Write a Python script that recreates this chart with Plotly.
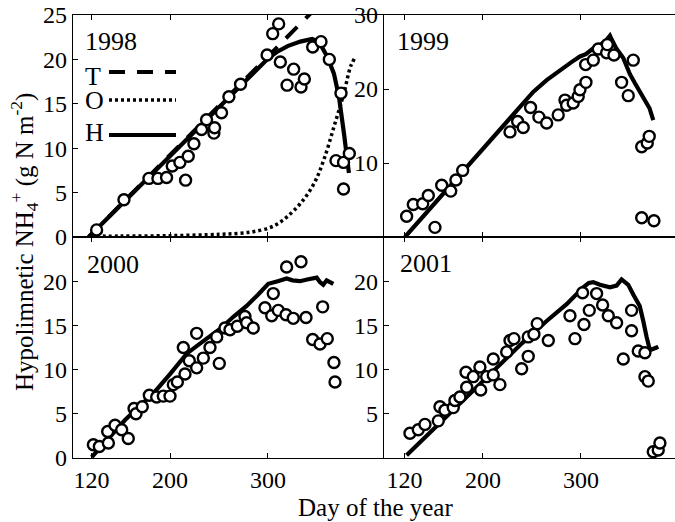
import plotly.graph_objects as go

# ---------------- data ----------------
# 1998
obs98_day = [125.1, 153, 178.5, 187.7, 196.5, 202.3, 210.1, 215.9, 218.6, 224.4, 232.2, 237.3, 244.8,
             245.5, 252.6, 260.1, 272, 299.1, 304.8, 310.9, 312.6, 319.5, 326.2, 333.7, 337.1, 345.6,
             354.1, 362.6, 374.5, 369.4, 377.1, 377.1, 383]
obs98_val = [0.8, 4.2, 6.6, 6.6, 6.7, 8.0, 8.4, 6.4, 9.1, 10.5, 12.1, 13.2, 11.7,
             12.3, 14.0, 15.8, 17.2, 20.5, 22.9, 24.0, 19.7, 17.1, 18.9, 16.9, 17.8, 21.4,
             22.0, 20.0, 16.2, 8.6, 8.4, 5.4, 9.4]
H98_day = [117, 150, 200, 250, 300, 310, 320, 333, 345, 352, 360.5, 367.3, 372.4, 377.5, 380.9, 382.6]
H98_val = [0, 3.6, 9.1, 14.6, 20.1, 20.9, 21.5, 22.0, 22.3, 22.0, 20.3, 18.4, 15.8, 11.7, 8.7, 7.2]
T98_day = [117, 350]
T98_val = [0, 25.9]
O98_day = [125, 150, 200, 250, 268.7, 285, 300.6, 310, 319.7, 333.3, 346.9, 357, 367.3, 377.5, 384.3, 389.4]
O98_val = [0.1, 0.1, 0.15, 0.3, 0.4, 0.6, 1.0, 1.5, 2.3, 3.8, 6.0, 8.7, 12.4, 16.2, 19.2, 20.3]

# 1999
obs99_day = [122.1, 128.9, 138.5, 144.2, 151, 157.9, 167.1, 172.4, 179.3, 227.6, 235.4, 241.1, 248.6,
             257.1, 265, 276.8, 283.7, 285.4, 292.1, 297.2, 299, 305.1, 304.8, 312.6, 317.7, 326.2,
             326.9, 333.7, 341.5, 348.3, 353.4, 362, 367.7, 369.7, 362, 374.5]
obs99_val = [2.8, 4.4, 4.5, 5.6, 1.3, 7.0, 6.2, 7.7, 9.0, 14.2, 15.6, 14.8, 17.5,
             16.2, 15.4, 16.5, 18.5, 17.8, 18.1, 19.0, 19.9, 20.9, 23.3, 23.9, 25.4, 24.9,
             26.0, 24.6, 20.9, 19.1, 23.9, 12.2, 12.7, 13.6, 2.6, 2.2]
H99_day = [120.4, 176.5, 220.7, 251.3, 265, 278.6, 290, 299, 305, 312.6, 320, 326, 329.6, 331, 336,
           343.2, 350, 355, 358.5, 362, 367, 370, 373.8]
H99_val = [0, 8.4, 15.0, 19.6, 21.2, 22.6, 23.6, 24.4, 24.7, 25.5, 26.0, 26.6, 27.2, 26.8, 25.5,
           24.2, 22.0, 20.8, 20.0, 19.3, 18.2, 17.4, 15.8]

# 2000
obs00_day = [121.8, 127.9, 137.1, 136.4, 143.9, 150.7, 157.4, 163.3, 165.3, 171.7, 178.9, 186.4, 193.2,
             200, 203.4, 207.5, 215.3, 213.6, 219.7, 227.2, 227.2, 234, 240.8, 247.7, 250.3, 256.1,
             261.2, 268.7, 276.5, 278.2, 285, 296.9, 303.8, 305.4, 310.5, 318.4, 319, 325.8, 333.7,
             338.8, 345.6, 353.1, 355.8, 360.5, 367.3, 368.4]
obs00_val = [1.5, 1.3, 1.7, 3.0, 3.7, 3.2, 2.2, 5.6, 5.0, 5.8, 7.1, 6.9, 7.0,
             7.0, 8.3, 8.6, 9.5, 12.5, 11.0, 10.2, 14.1, 11.3, 12.5, 13.7, 10.7, 14.7,
             14.5, 14.9, 16.0, 15.3, 14.7, 17.0, 16.1, 18.6, 16.7, 16.2, 21.6, 15.8, 22.2,
             15.9, 13.4, 12.9, 17.1, 13.5, 10.8, 8.6]
H00_day = [120.1, 135, 154.1, 170, 183, 200, 217, 235, 251, 265, 278.2, 290, 300.3, 310, 319, 325,
           332.7, 340, 349.7, 353, 356.4, 359.9, 363, 366.7]
H00_val = [0.1, 2.0, 4.3, 6.0, 7.3, 9.5, 11.8, 13.3, 14.6, 16.0, 17.2, 18.5, 19.7, 20.0, 20.3, 20.1,
           20.0, 20.2, 20.4, 19.9, 19.6, 20.1, 19.9, 19.7]

# 2001
obs01_day = [125.5, 134, 140.8, 154.4, 156.1, 161.2, 169.7, 171.4, 176.5, 183.4, 182.7, 190.1, 196.9,
             197.7, 203.8, 210.5, 210.5, 217.3, 224.2, 227.6, 231.6, 239.5, 246.2, 246.2, 252, 255.4,
             266.7, 288.8, 293.9, 301.7, 303.1, 308.5, 316, 322.1, 327.9, 336.4, 343.2, 351.7, 351.7,
             358.5, 365.3, 365.3, 368.7, 373.8, 378.9, 380.6]
obs01_val = [2.8, 3.2, 3.8, 4.2, 5.8, 5.4, 5.7, 6.5, 6.9, 8.0, 9.7, 9.2, 10.3,
             7.7, 9.2, 11.2, 9.4, 8.3, 12.0, 13.3, 13.5, 10.1, 13.7, 11.5, 14.0, 15.2,
             13.3, 16.1, 13.5, 18.7, 15.1, 16.7, 18.6, 17.3, 16.1, 15.3, 11.2, 16.7, 14.4,
             12.1, 11.9, 9.2, 8.7, 0.7, 0.9, 1.7]
H01_day = [122.1, 170, 217.3, 240, 265, 285.4, 302.4, 308, 312.6, 319.4, 329.6, 336.4, 341.5, 344.9,
           348.3, 353.4, 356.8, 360, 363.6, 365.3, 367, 370.4, 373.8, 377.2, 378.9]
H01_val = [0.3, 5.5, 10.5, 13.0, 15.5, 17.4, 19.3, 19.8, 19.9, 19.6, 19.3, 19.5, 20.2, 19.9,
           19.6, 18.5, 17.8, 17.2, 15.5, 14.4, 13.7, 12.2, 12.3, 12.5, 12.6]

years = ["1998", "1999", "2000", "2001"]
legend_labels = ["T", "O", "H"]
x_tickvals = [120, 200, 300]
x_ticktext = ["120", "200", "300"]
y_ticks_98 = [0, 5, 10, 15, 20, 25]
y_ticks_99 = [10, 20, 30]
y_ticks_00 = [0, 5, 10, 15, 20]
y_ticks_01 = [5, 10, 15, 20]
x_title = "Day of the year"
y_title = "Hypolimnetic NH<sub>4</sub><sup>+</sup> (g N m<sup>-2</sup>)"

# ---------------- figure ----------------
W, H = 675, 522
FONT = "Liberation Serif, Times New Roman, serif"


def fx(p):
    return p / W


def fy(p):
    return 1 - p / H


fig = go.Figure()

marker = dict(symbol="circle", size=11, color="white", line=dict(width=2.4, color="black"))
hline = dict(color="black", width=4.2)

panels = [
    ("x", "y", obs98_day, obs98_val, H98_day, H98_val),
    ("x2", "y2", obs99_day, obs99_val, H99_day, H99_val),
    ("x3", "y3", obs00_day, obs00_val, H00_day, H00_val),
    ("x4", "y4", obs01_day, obs01_val, H01_day, H01_val),
]

# T and O models for 1998
fig.add_trace(go.Scatter(x=T98_day, y=T98_val, mode="lines", xaxis="x", yaxis="y",
                         line=dict(color="black", width=4, dash="16px,12px"), showlegend=False))
fig.add_trace(go.Scatter(x=O98_day, y=O98_val, mode="lines", xaxis="x", yaxis="y",
                         line=dict(color="black", width=3.5, dash="3px,3px", shape="spline"),
                         showlegend=False))

for xa, ya, od, ov, hd, hv in panels:
    fig.add_trace(go.Scatter(x=hd, y=hv, mode="lines", xaxis=xa, yaxis=ya,
                             line=hline, showlegend=False))
for xa, ya, od, ov, hd, hv in panels:
    fig.add_trace(go.Scatter(x=od, y=ov, mode="markers", xaxis=xa, yaxis=ya,
                             marker=marker, showlegend=False))

tickfont = dict(family=FONT, size=24, color="black")
axis_common = dict(showline=True, linecolor="black", linewidth=1.2, ticks="inside", ticklen=5,
                   tickwidth=1, tickcolor="black", showgrid=False, zeroline=False, tickfont=tickfont,
                   automargin=False)

xl = [fx(73), fx(384)]
xr = [fx(384), 1.0]
yt = [fy(237), fy(15)]
yb = [fy(458), fy(237)]

fig.update_layout(
    width=W, height=H,
    margin=dict(l=0, r=0, t=0, b=0, autoexpand=False),
    paper_bgcolor="white", plot_bgcolor="white",
    font=dict(family=FONT, color="black"),
    xaxis=dict(domain=xl, range=[101, 418.4], anchor="y", tickvals=x_tickvals,
               showticklabels=False, mirror="ticks", **axis_common),
    yaxis=dict(domain=yt, range=[0, 25], anchor="x", tickvals=y_ticks_98,
               ticktext=[str(v) for v in y_ticks_98], **axis_common),
    xaxis2=dict(domain=xr, range=[99, 396], anchor="y2", tickvals=x_tickvals,
                showticklabels=False, mirror="ticks", **axis_common),
    yaxis2=dict(domain=yt, range=[0, 30], anchor="x2", tickvals=y_ticks_99,
                ticktext=[str(v) for v in y_ticks_99], **axis_common),
    xaxis3=dict(domain=xl, range=[101, 418.4], anchor="y3", tickvals=x_tickvals,
                ticktext=x_ticktext, mirror="ticks", **axis_common),
    yaxis3=dict(domain=yb, range=[0, 25], anchor="x3", tickvals=y_ticks_00,
                ticktext=[str(v) for v in y_ticks_00], **axis_common),
    xaxis4=dict(domain=xr, range=[99, 396], anchor="y4", tickvals=x_tickvals,
                ticktext=x_ticktext, mirror="ticks", **axis_common),
    yaxis4=dict(domain=yb, range=[0, 25], anchor="x4", tickvals=y_ticks_01,
                ticktext=[str(v) for v in y_ticks_01], **axis_common),
)

annots = []
yr_font = dict(family=FONT, size=26, color="black")
for (yr, (px, py)) in zip(years, [(83, 41), (395, 41), (85, 264), (398, 263)]):
    annots.append(dict(text=yr, x=fx(px), y=fy(py), xref="paper", yref="paper",
                       xanchor="left", yanchor="middle", showarrow=False, font=yr_font))

leg_text_y = [76, 101, 132]
leg_line_y = [72, 100, 135]
leg_dash = ["16px,12px", "3px,3px", "solid"]
leg_width = [4, 3.5, 4]
shapes = []
for lab, ty, ly, d, w in zip(legend_labels, leg_text_y, leg_line_y, leg_dash, leg_width):
    annots.append(dict(text=lab, x=fx(83), y=fy(ty), xref="paper", yref="paper",
                       xanchor="left", yanchor="middle", showarrow=False, font=yr_font))
    shapes.append(dict(type="line", xref="paper", yref="paper", x0=fx(109), x1=fx(176),
                       y0=fy(ly), y1=fy(ly), line=dict(color="black", width=w, dash=d)))

annots.append(dict(text=x_title, x=fx(375), y=fy(507), xref="paper", yref="paper",
                   xanchor="center", yanchor="middle", showarrow=False,
                   font=dict(family=FONT, size=25, color="black")))
annots.append(dict(text=y_title, x=fx(24), y=fy(242), xref="paper", yref="paper",
                   xanchor="center", yanchor="middle", showarrow=False, textangle=-90,
                   font=dict(family=FONT, size=25, color="black")))

fig.update_layout(annotations=annots, shapes=shapes)

fig.write_html("out.html", config={"displayModeBar": False},
               post_script="document.body.style.margin='0px';document.body.style.overflow='hidden';")
